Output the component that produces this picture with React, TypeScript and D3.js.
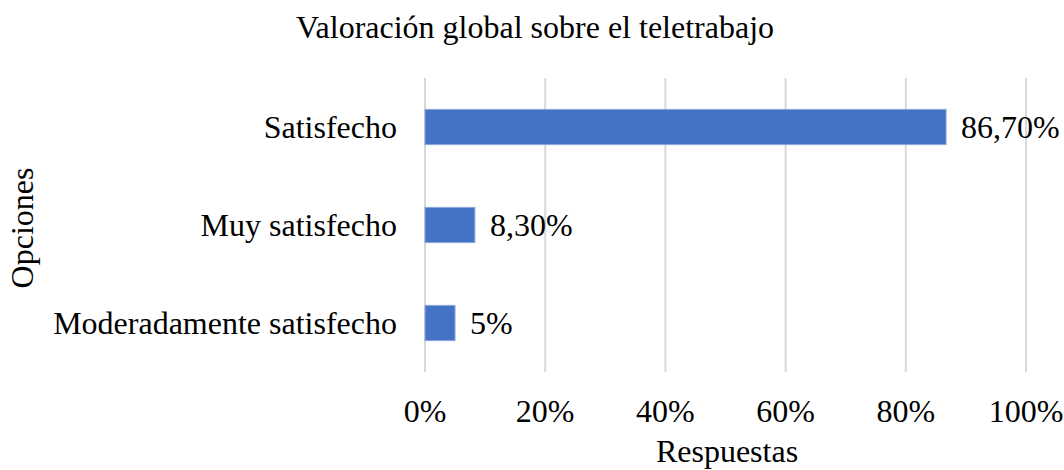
import React from "react";
import * as d3 from "d3";

const categories = ["Satisfecho", "Muy satisfecho", "Moderadamente satisfecho"];
const values = [86.7, 8.3, 5];
const valueLabels = ["86,70%", "8,30%", "5%"];
const ticks = [0, 20, 40, 60, 80, 100];

const W = 1064;
const H = 470;
const FONT = "'Liberation Serif', 'Times New Roman', serif";
const FS = 32;

export default function App() {
  const x = d3.scaleLinear().domain([0, 100]).range([425, 1026]);
  const y = d3.scaleBand<string>().domain(categories).range([78, 372]).paddingInner(0.64).paddingOuter(0.32);
  return (
    <svg width={W} height={H} style={{ position: "absolute", left: 0, top: 0 }} fontFamily={FONT}>
      <rect width={W} height={H} fill="#fff" />
      <text x={535} y={38} textAnchor="middle" fontSize={FS} fill="#000">Valoración global sobre el teletrabajo</text>
      {ticks.map((t) => (
        <g key={t}>
          <line x1={x(t)} x2={x(t)} y1={78} y2={372} stroke="#d9d9d9" strokeWidth={2} />
          <text x={x(t)} y={422} textAnchor="middle" fontSize={FS} fill="#000">{t}%</text>
        </g>
      ))}
      {categories.map((c, i) => {
        const yy = y(c)!;
        const bw = y.bandwidth();
        return (
          <g key={c}>
            <rect x={x(0)} y={yy} width={x(values[i]) - x(0)} height={bw} fill="#4472C4" stroke="#8faadc" strokeWidth={1} />
            <text x={x(values[i]) + 15} y={yy + bw / 2} dy="0.35em" fontSize={FS} fill="#000">{valueLabels[i]}</text>
            <text x={397} y={yy + bw / 2} dy="0.35em" textAnchor="end" fontSize={FS} fill="#000">{c}</text>
          </g>
        );
      })}
      <text x={727} y={462} textAnchor="middle" fontSize={FS} fill="#000">Respuestas</text>
      <text transform="translate(33,228) rotate(-90)" textAnchor="middle" fontSize={FS} fill="#000">Opciones</text>
    </svg>
  );
}
